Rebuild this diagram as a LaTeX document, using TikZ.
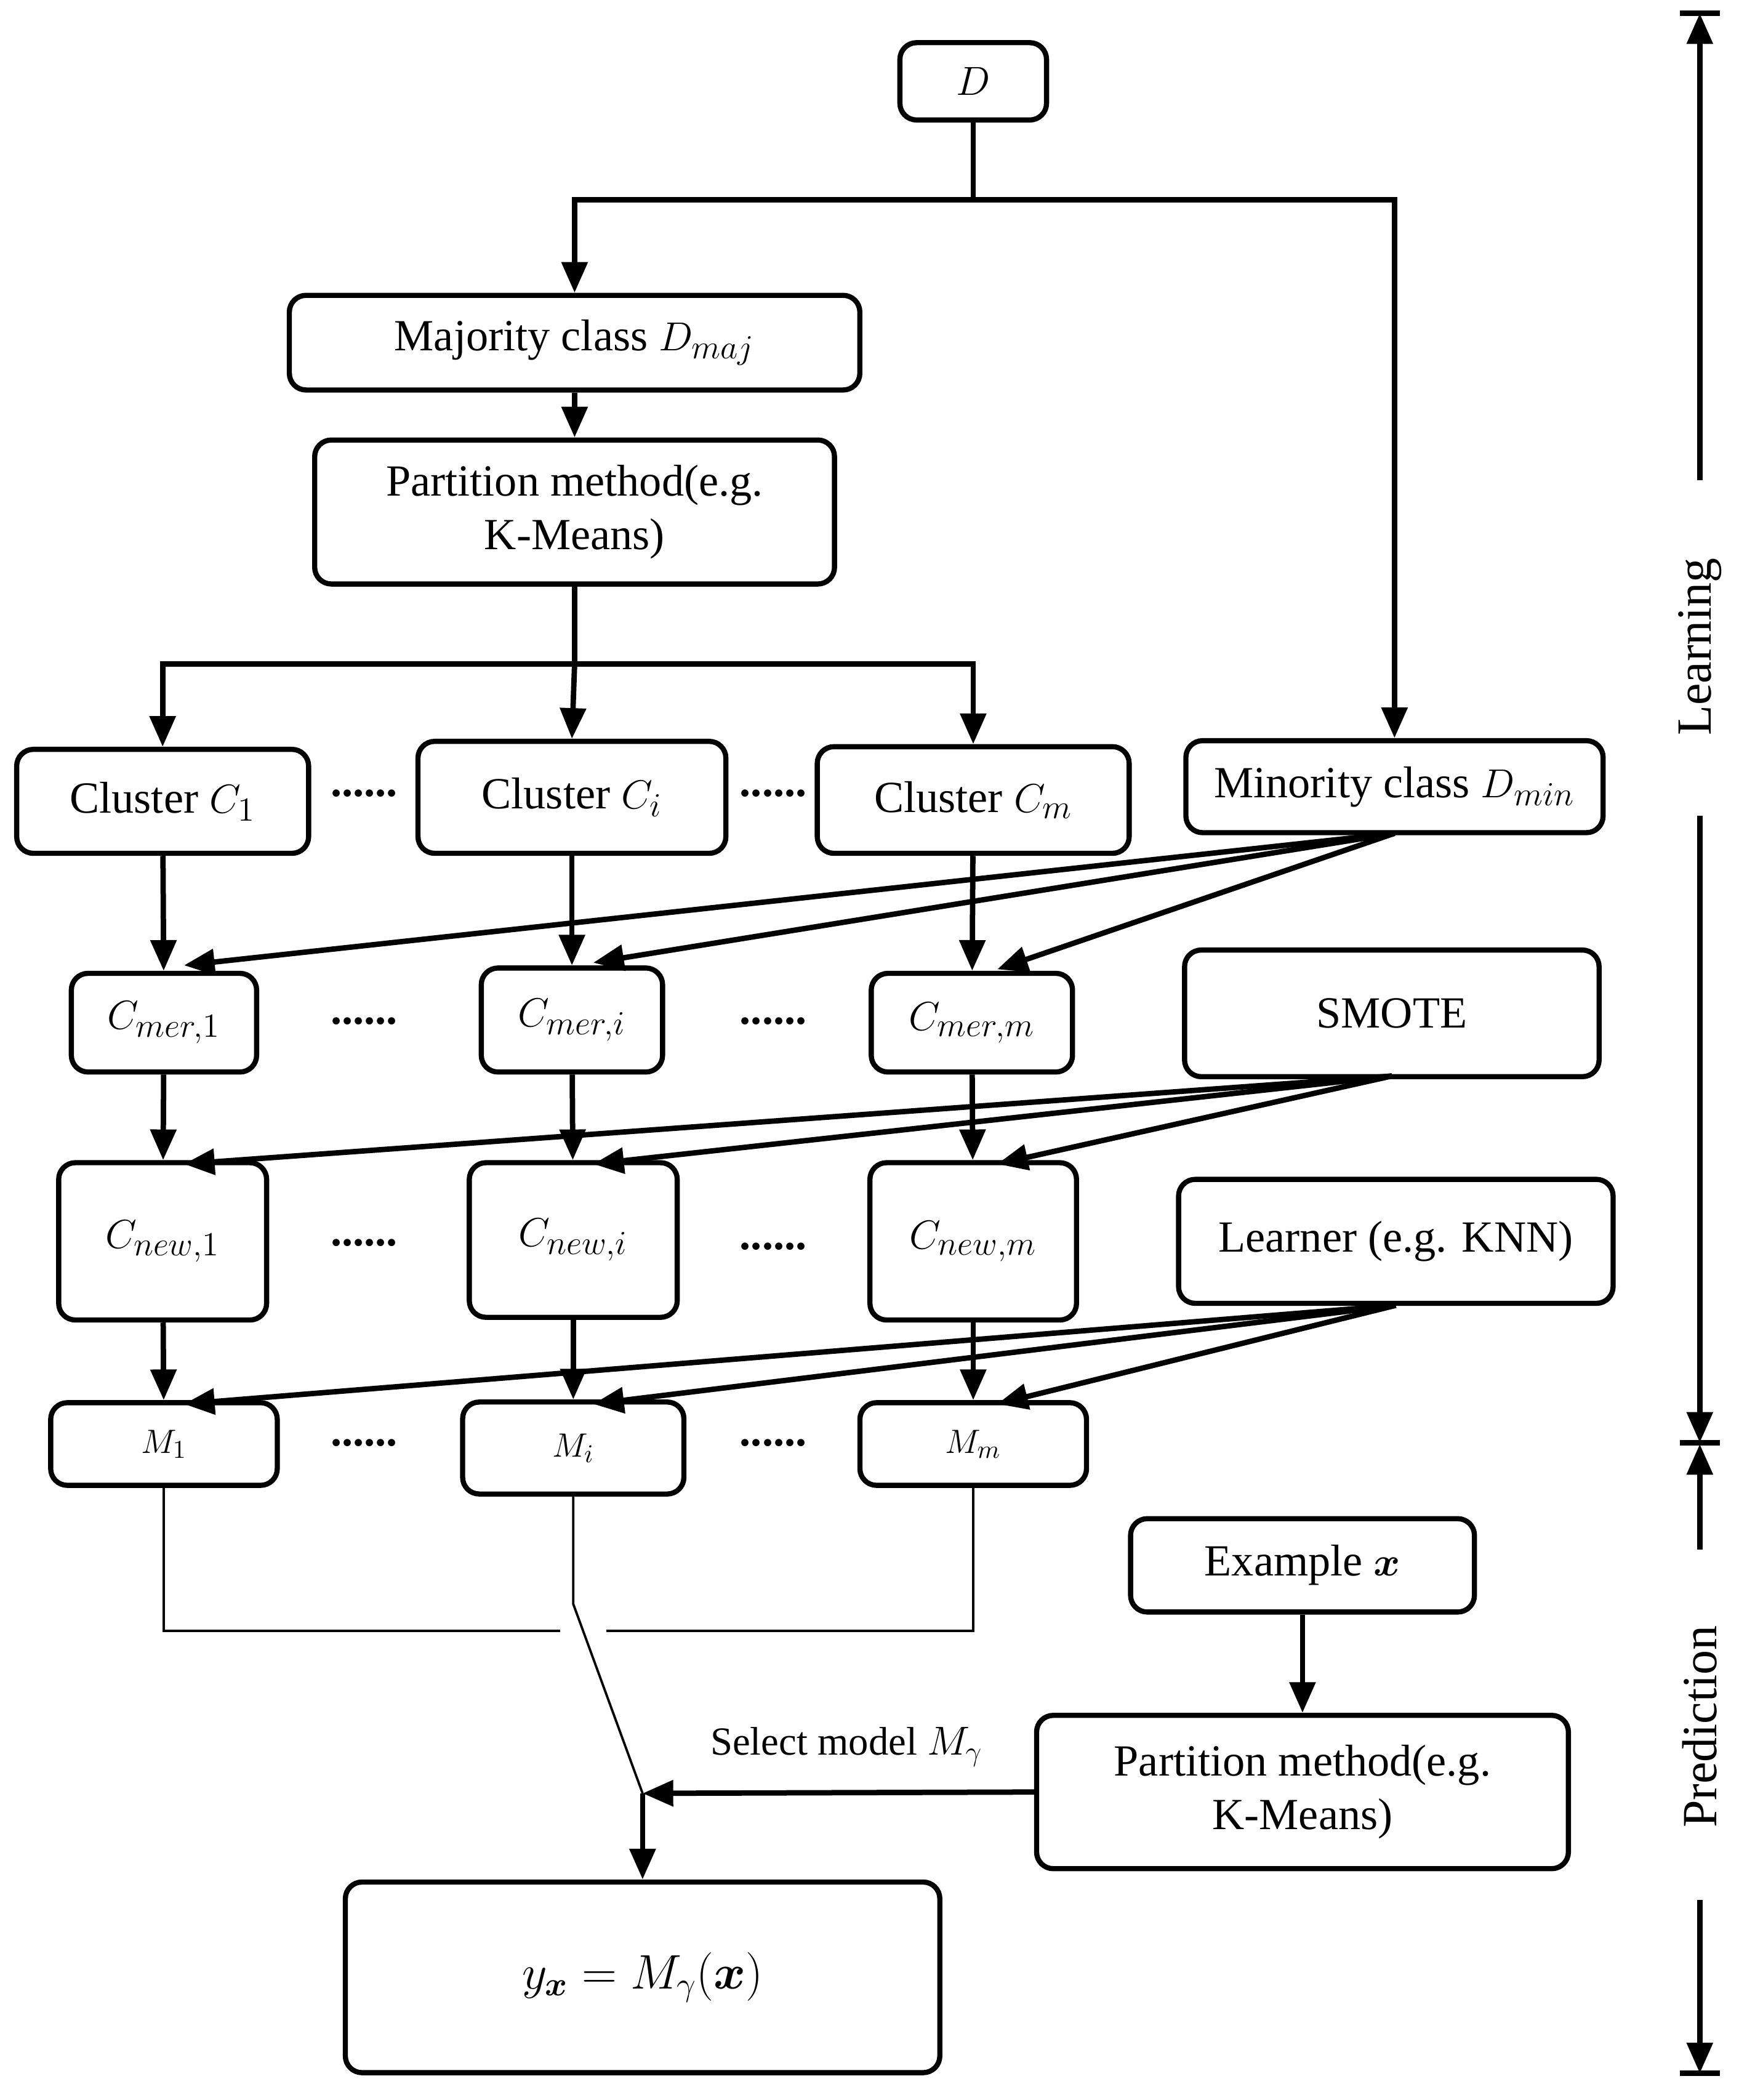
\documentclass[tikz,border=0pt]{standalone}
\usepackage{amsmath,amssymb,bm}
\usepackage{fontspec}
\setmainfont{Liberation Serif}
\usetikzlibrary{arrows.meta}
\newcommand{\bx}{\boldsymbol{x}}
\begin{document}
\begin{tikzpicture}[x=0.02cm,y=-0.02cm,
 box/.style={draw,line width=2.2pt,rounded corners=0.25cm,align=center,inner sep=0pt,font=\fontsize{19}{23}\selectfont},
 ar/.style={line width=2.3pt,-{Triangle[length=0.46cm,width=0.38cm]}},
 ln/.style={line width=2.3pt},
 th/.style={line width=1pt},
 dots/.style={font=\fontsize{19}{23}\selectfont\bfseries}]
\useasboundingbox (0,0) rectangle (1310,1575);
\node[box,minimum width=2.2cm,minimum height=1.16cm] (D) at (730,61) {$D$};
\node[box,minimum width=8.56cm,minimum height=1.42cm] (maj) at (431,257) {Majority class $D_{maj}$};
\node[box,minimum width=7.8cm,minimum height=2.16cm] (part) at (431,384) {Partition method(e.g.\\K-Means)};
\node[box,minimum width=4.38cm,minimum height=1.56cm] (c1) at (122,601) {Cluster $C_1$};
\node[box,minimum width=4.62cm,minimum height=1.68cm] (ci) at (429,598) {Cluster $C_i$};
\node[box,minimum width=4.68cm,minimum height=1.6cm] (cm) at (730,600) {Cluster $C_m$};
\node[box,minimum width=6.26cm,minimum height=1.38cm] (min) at (1046,590) {Minority class $D_{min}$};
\node[box,minimum width=2.78cm,minimum height=1.48cm] (m1) at (123,767) {$C_{mer,1}$};
\node[box,minimum width=2.72cm,minimum height=1.56cm] (mi) at (429,765) {$C_{mer,i}$};
\node[box,minimum width=3.02cm,minimum height=1.48cm] (mm) at (729,767) {$C_{mer,m}$};
\node[box,minimum width=6.22cm,minimum height=1.9cm] (smote) at (1044,760) {SMOTE};
\node[box,minimum width=3.12cm,minimum height=2.36cm] (n1) at (122,931) {$C_{new,1}$};
\node[box,minimum width=3.12cm,minimum height=2.32cm] (ni) at (430,930) {$C_{new,i}$};
\node[box,minimum width=3.1cm,minimum height=2.36cm] (nm) at (730,931) {$C_{new,m}$};
\node[box,minimum width=6.52cm,minimum height=1.86cm] (learn) at (1047,931) {Learner (e.g. KNN)};
\node[box,minimum width=3.4cm,minimum height=1.24cm,font=\fontsize{15}{17}\selectfont] (M1) at (123,1083) {$M_1$};
\node[box,minimum width=3.32cm,minimum height=1.38cm,font=\fontsize{15}{17}\selectfont] (Mi) at (430,1086) {$M_i$};
\node[box,minimum width=3.4cm,minimum height=1.24cm,font=\fontsize{15}{17}\selectfont] (Mm) at (730,1083) {$M_m$};
\node[box,minimum width=5.16cm,minimum height=1.4cm] (ex) at (977,1174) {Example $\bx$};
\node[box,minimum width=7.98cm,minimum height=2.3cm] (part2) at (977,1344) {Partition method(e.g.\\K-Means)};
\node[box,minimum width=8.92cm,minimum height=2.86cm,font=\fontsize{22}{26}\selectfont] (res) at (482,1483) {$y_{\bx}=M_\gamma(\bx)$};
% top split
\coordinate (s) at (730,150);
\draw[ln] (D.south) -- (s);
\draw[ar] (s) -| (maj.north);
\draw[ar] (s) -| (min.north);
\draw[ar] (maj) -- (part);
\coordinate (p) at (431,498);
\draw[ln] (part.south) -- (p);
\draw[ar] (p) -| (c1.north);
\draw[ar] (p) -- (ci.north);
\draw[ar] (p) -| (cm.north);
\draw[ar] (c1) -- (m1);\draw[ar] (ci) -- (mi);\draw[ar] (cm) -- (mm);
\draw[ar] (m1) -- (n1);\draw[ar] (mi) -- (ni);\draw[ar] (mm) -- (nm);
\draw[ar] (n1) -- (M1);\draw[ar] (ni) -- (Mi);\draw[ar] (nm) -- (Mm);
\coordinate (mb) at (1046,625);
\draw[ar] (mb) -- (138,724);\draw[ar] (mb) -- (445,722);\draw[ar] (mb) -- (748,727);
\coordinate (sb) at (1044,807);
\draw[ar] (sb) -- (138,873);\draw[ar] (sb) -- (445,873);\draw[ar] (sb) -- (748,873);
\coordinate (lb) at (1047,979);
\draw[ar] (lb) -- (138,1053);\draw[ar] (lb) -- (445,1053);\draw[ar] (lb) -- (748,1053);
% dots
\foreach \x/\y in {273/595,580/595,273/766,580/766,273/932,580/935,273/1082,580/1082}
 \node[dots] at (\x,\y) {......};
% selection
\coordinate (j) at (482,1345);
\draw[th] (M1.south) -- (123,1223) -- (420,1223);
\draw[th] (455,1223) -- (730,1223) -- (Mm.south);
\draw[th] (Mi.south) -- (430,1203) -- (j);
\draw[ar] (ex) -- (part2);
\draw[ar] (part2.west) -- (j);
\draw[ar] (j) -- (res.north);
\node[font=\fontsize{17}{20}\selectfont] at (635,1310) {Select model $M_\gamma$};
% side
\draw[ln] (1260,10) -- (1290,10);
\draw[ar] (1275,360) -- (1275,10);
\draw[ar] (1275,612) -- (1275,1082);
\draw[ln] (1260,1082) -- (1290,1082);
\draw[ar] (1275,1162) -- (1275,1083);
\draw[ar] (1275,1425) -- (1275,1555);
\draw[ln] (1260,1555) -- (1290,1555);
\node[rotate=90,font=\fontsize{21}{24}\selectfont] at (1275,485) {Learning};
\node[rotate=90,font=\fontsize{21}{24}\selectfont] at (1275,1295) {Prediction};
\end{tikzpicture}
\end{document}
